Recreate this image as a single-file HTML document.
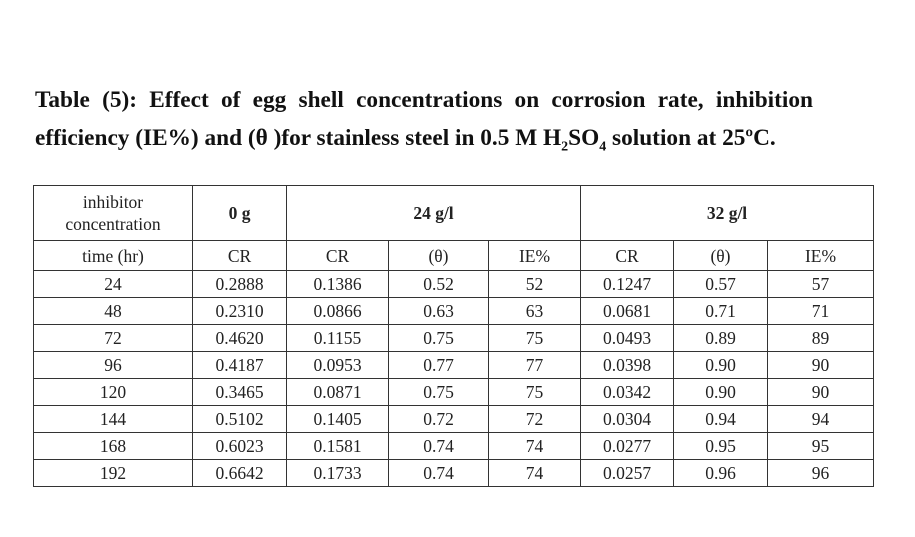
<!DOCTYPE html>
<html><head><meta charset="utf-8"><style>
html,body{margin:0;padding:0;background:#fff;width:915px;height:537px;overflow:hidden;position:relative}
.t{position:absolute;left:35px;font-family:"Liberation Serif",serif;font-weight:bold;font-size:23.3px;color:#111;white-space:nowrap}
.l1{top:87px;width:778px;text-align:justify;text-align-last:justify;white-space:normal}
.l2{top:125px}
table{position:absolute;left:33px;top:185px;border-collapse:collapse;font-family:"Liberation Serif",serif;font-size:17.5px;color:#222;table-layout:fixed}
td{border:1.3px solid #333;text-align:center;padding:0;line-height:18px}
.b{font-weight:bold}
tr.r td{height:26px}
</style></head><body>
<div class="t l1">Table (5): Effect of egg shell concentrations on corrosion rate, inhibition</div>
<div class="t l2">efficiency (IE%) and (θ )for stainless steel in 0.5 M H<sub style="font-size:14px">2</sub>SO<sub style="font-size:14px">4</sub> solution at 25ºC.</div>
<table>
<colgroup><col style="width:159px"><col style="width:94px"><col style="width:102px"><col style="width:100px"><col style="width:92px"><col style="width:93px"><col style="width:94px"><col style="width:106px"></colgroup>
<tr style="height:55px"><td style="line-height:22px">inhibitor<br>concentration</td><td class="b">0 g</td><td class="b" colspan="3">24 g/l</td><td class="b" colspan="3">32 g/l</td></tr>
<tr style="height:30px"><td>time (hr)</td><td>CR</td><td>CR</td><td>(θ)</td><td>IE%</td><td>CR</td><td>(θ)</td><td>IE%</td></tr>
<tr class="r"><td>24</td><td>0.2888</td><td>0.1386</td><td>0.52</td><td>52</td><td>0.1247</td><td>0.57</td><td>57</td></tr>
<tr class="r"><td>48</td><td>0.2310</td><td>0.0866</td><td>0.63</td><td>63</td><td>0.0681</td><td>0.71</td><td>71</td></tr>
<tr class="r"><td>72</td><td>0.4620</td><td>0.1155</td><td>0.75</td><td>75</td><td>0.0493</td><td>0.89</td><td>89</td></tr>
<tr class="r"><td>96</td><td>0.4187</td><td>0.0953</td><td>0.77</td><td>77</td><td>0.0398</td><td>0.90</td><td>90</td></tr>
<tr class="r"><td>120</td><td>0.3465</td><td>0.0871</td><td>0.75</td><td>75</td><td>0.0342</td><td>0.90</td><td>90</td></tr>
<tr class="r"><td>144</td><td>0.5102</td><td>0.1405</td><td>0.72</td><td>72</td><td>0.0304</td><td>0.94</td><td>94</td></tr>
<tr class="r"><td>168</td><td>0.6023</td><td>0.1581</td><td>0.74</td><td>74</td><td>0.0277</td><td>0.95</td><td>95</td></tr>
<tr class="r"><td>192</td><td>0.6642</td><td>0.1733</td><td>0.74</td><td>74</td><td>0.0257</td><td>0.96</td><td>96</td></tr>
</table>
</body></html>
